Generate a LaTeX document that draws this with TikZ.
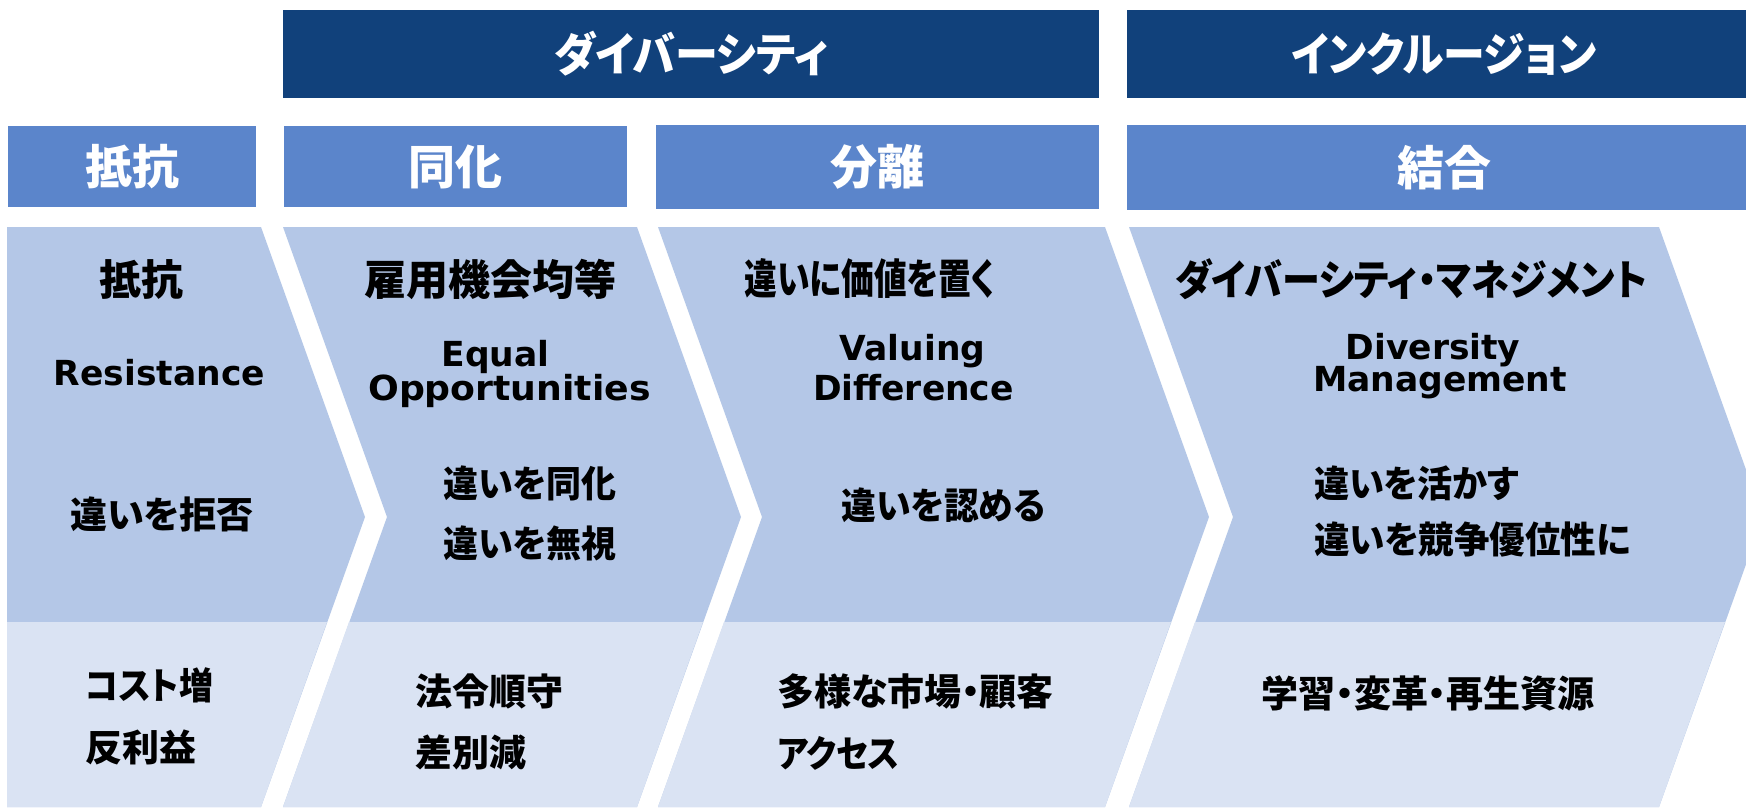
\documentclass[tikz,border=0pt]{standalone}
\usepackage{fontspec}
\newfontfamily\jpfont{Noto Sans CJK JP}[RawFeature={+palt}]
\newfontfamily\enfont{DejaVu Sans}
\definecolor{cDark}{HTML}{11417B}
\definecolor{cMid}{HTML}{5B85CB}
\definecolor{cUp}{HTML}{B4C7E7}
\definecolor{cLow}{HTML}{DAE3F3}
\newcommand\hsq[2]{\scalebox{#1}[1]{#2}}
\begin{document}
\begin{tikzpicture}[x=1pt,y=-1pt,
  darkbar/.style={fill=cDark, text=white, inner sep=0pt, minimum height=88pt,
    font={\jpfont\bfseries\fontsize{46}{50}\selectfont}},
  midbar/.style={fill=cMid, text=white, inner sep=0pt,
    font={\jpfont\bfseries\fontsize{47}{50}\selectfont}},
  hd/.style={inner sep=0pt, font={\jpfont\bfseries\fontsize{42}{46}\selectfont}},
  en/.style={inner sep=0pt, anchor=base, font={\enfont\bfseries\fontsize{34.5}{38}\selectfont}},
  bd/.style={inner sep=0pt, font={\jpfont\bfseries\fontsize{37}{40}\selectfont}},
  bdl/.style={bd, anchor=west},
  lw/.style={inner sep=0pt, anchor=west, font={\jpfont\bfseries\fontsize{37}{40}\selectfont}}
]
\fill[white] (0,0) rectangle (1746,807);
\clip (0,0) rectangle (1746,807);

% top bars
\node[darkbar, minimum width=816pt] (hdiv) at (691,54) {\hsq{0.935}{ダイバーシティ}};
\node[darkbar, minimum width=634pt] (hinc) at (1444,54) {\hsq{0.91}{インクルージョン}};

% stage bars
\node[midbar, minimum width=248pt, minimum height=81pt] (s1) at (132,166.5) {抵抗};
\node[midbar, minimum width=343pt, minimum height=81pt] (s2) at (455.5,166.5) {同化};
\node[midbar, minimum width=443pt, minimum height=84pt] (s3) at (877.5,167) {分離};
\node[midbar, minimum width=634pt, minimum height=85pt] (s4) at (1444,167.5) {結合};

% chevrons (upper colour)
\fill[cUp] (7,227) -- (261,227) -- (365,517) -- (261,807) -- (7,807) -- cycle;
\fill[cUp] (283,227) -- (637,227) -- (741,517) -- (637,807) -- (283,807) -- (387,517) -- cycle;
\fill[cUp] (658,227) -- (1105,227) -- (1209,517) -- (1105,807) -- (658,807) -- (762,517) -- cycle;
\fill[cUp] (1129,227) -- (1659,227) -- (1763,517) -- (1659,807) -- (1129,807) -- (1233,517) -- cycle;
% lower band
\fill[cLow] (7,622) -- (327,622) -- (261,807) -- (7,807) -- cycle;
\fill[cLow] (349,622) -- (703,622) -- (637,807) -- (283,807) -- cycle;
\fill[cLow] (724,622) -- (1171,622) -- (1105,807) -- (658,807) -- cycle;
\fill[cLow] (1195,622) -- (1725,622) -- (1659,807) -- (1129,807) -- cycle;

% chevron 1
\node[hd] (c1h) at (141,279) {抵抗};
\node[en] (c1e) at (159.5,385.7) {Resistance};
\node[bd] (c1b) at (162,514) {違いを拒否};
\node[lw] (c1l1) at (85,685) {\hsq{0.92}{コスト増}};
\node[lw] (c1l2) at (85,747) {反利益};

% chevron 2
\node[hd] (c2h) at (490,279) {雇用機会均等};
\node[en] (c2e1) at (495.5,366.7) {Equal};
\node[en] (c2e2) at (509.5,400) {\hsq{1.05}{Opportunities}};
\node[bdl] (c2b1) at (443,483) {\hsq{0.945}{違いを同化}};
\node[bdl] (c2b2) at (443,543) {\hsq{0.945}{違いを無視}};
\node[lw] (c2l1) at (415,691) {法令順守};
\node[lw] (c2l2) at (415,752) {差別減};

% chevron 3
\node[hd] (c3h) at (870,279) {\hsq{0.78}{違いに価値を置く}};
\node[en] (c3e1) at (912.5,360.7) {Valuing};
\node[en] (c3e2) at (913.5,400) {Difference};
\node[bd] (c3b) at (943.5,505) {\hsq{0.94}{違いを認める}};
\node[lw] (c3l1) at (777,691) {多様な市場・顧客};
\node[lw] (c3l2) at (777,753) {\hsq{0.9}{アクセス}};

% chevron 4
\node[hd] (c4h) at (1411,279) {\hsq{0.905}{ダイバーシティ・マネジメント}};
\node[en] (c4e1) at (1433,359.3) {Diversity};
\node[en] (c4e2) at (1440,391.7) {Management};
\node[bdl] (c4b1) at (1314,483) {\hsq{0.95}{違いを活かす}};
\node[bdl] (c4b2) at (1314,540) {\hsq{0.96}{違いを競争優位性に}};
\node[bd] (c4l1) at (1428,693) {学習・変革・再生資源};
\end{tikzpicture}
\end{document}
